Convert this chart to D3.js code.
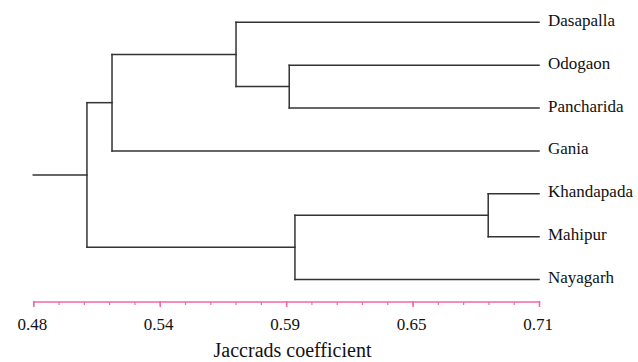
<!DOCTYPE html>
<html>
<head>
<meta charset="utf-8">
<script src="https://cdn.jsdelivr.net/npm/d3@7"></script>
<style>
  html, body { margin: 0; padding: 0; background: #fff; }
  svg { display: block; }
  svg text { font-family: "Liberation Serif", "Times New Roman", serif; }
</style>
</head>
<body>
<svg id="chart" width="638" height="362"></svg>
<script>
// ---- Data ----
const leaves = ["Dasapalla", "Odogaon", "Pancharida", "Gania", "Khandapada", "Mahipur", "Nayagarh"];
// Merge table (hclust-like): id, left child, right child, coefficient at merge
const mergeIds    = ["OP", "DOP", "KM", "KMN", "DOPG", "root"];
const mergeLeft   = ["Odogaon", "Dasapalla", "Khandapada", "KM", "DOP", "DOPG"];
const mergeRight  = ["Pancharida", "OP", "Mahipur", "Nayagarh", "Gania", "KMN"];
const mergeValues = [0.5964, 0.5722, 0.6869, 0.5990, 0.5158, 0.5044];
const leafValue = 0.71;
const axisMin = 0.48, axisMax = 0.71;
const majorTickValues = [0.48, 0.5375, 0.595, 0.6525, 0.71];
const majorTickLabels = ["0.48", "0.54", "0.59", "0.65", "0.71"];
const axisTitle = "Jaccrads coefficient";

// ---- Layout ----
const svg = d3.select("#chart");
const x = d3.scaleLinear().domain([axisMin, axisMax]).range([33.3, 539]);
const y = d3.scalePoint().domain(leaves).range([22.3, 279.5]);
const axisY = 302;
const treeColor = "#333";
const axisColor = "#f466a6";
const font = "'Liberation Serif', 'Times New Roman', serif";

// build node positions
const pos = {};
leaves.forEach(l => pos[l] = { x: x(leafValue), y: y(l) });
mergeIds.forEach((id, i) => {
  const a = pos[mergeLeft[i]], b = pos[mergeRight[i]];
  pos[id] = { x: x(mergeValues[i]), y: (a.y + b.y) / 2, a, b };
});

const g = svg.append("g")
  .attr("fill", "none")
  .attr("stroke", treeColor)
  .attr("stroke-width", 1.5)
  .attr("stroke-linecap", "square");

mergeIds.forEach(id => {
  const n = pos[id];
  g.append("line").attr("x1", n.x).attr("x2", n.x).attr("y1", n.a.y).attr("y2", n.b.y);
  [n.a, n.b].forEach(c => {
    g.append("line").attr("x1", n.x).attr("x2", c.x).attr("y1", c.y).attr("y2", c.y);
  });
});
const root = pos["root"];
g.append("line").attr("x1", x(axisMin)).attr("x2", root.x).attr("y1", root.y).attr("y2", root.y);

// leaf labels
svg.append("g").selectAll("text").data(leaves).join("text")
  .attr("x", x(leafValue) + 9)
  .attr("y", d => y(d) + 3.5)
  .style("font-family", font)
  .attr("font-size", 17)
  .attr("fill", "#111")
  .text(d => d);

// ---- Axis ----
const minorTicks = d3.range(21).map(i => axisMin + (axisMax - axisMin) * i / 20);
const minorAxis = d3.axisBottom(x).tickValues(minorTicks).tickSize(3).tickSizeOuter(0).tickFormat("");
const gMinor = svg.append("g").attr("transform", `translate(0,${axisY})`).call(minorAxis);
gMinor.select(".domain").remove();
gMinor.selectAll("line").attr("stroke", axisColor).attr("stroke-width", 1.2);

const majorAxis = d3.axisBottom(x).tickValues(majorTickValues).tickSize(5).tickSizeOuter(0)
  .tickFormat((d, i) => majorTickLabels[i]);
const gMajor = svg.append("g").attr("transform", `translate(0,${axisY})`).call(majorAxis);
gMajor.select(".domain").attr("stroke", axisColor).attr("stroke-width", 1.5).attr("d", `M${x(axisMin)},0H${x(axisMax)}`);
gMajor.selectAll("line").attr("stroke", axisColor).attr("stroke-width", 1.5).attr("y1", -1);
gMajor.selectAll("text")
  .attr("y", 28).attr("dy", null).attr("x", -1.5)
  .style("font-family", font).attr("font-size", 17).attr("fill", "#111");

svg.append("text")
  .attr("x", 292.5).attr("y", 356.5)
  .attr("text-anchor", "middle")
  .style("font-family", font)
  .attr("font-size", 20)
  .attr("fill", "#111")
  .text(axisTitle);
</script>
</body>
</html>
